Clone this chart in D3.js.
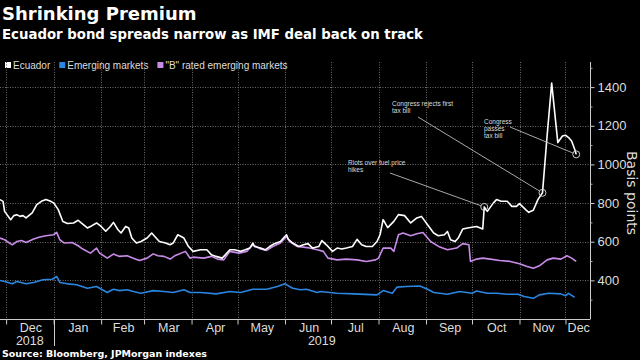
<!DOCTYPE html>
<html><head><meta charset="utf-8">
<script src="https://cdn.jsdelivr.net/npm/d3@7"></script>
<style>
html,body{margin:0;padding:0;background:#000;}
svg{display:block;}
</style></head>
<body>
<svg id="c" width="640" height="360"></svg>
<script>
const title = "Shrinking Premium";
const subtitle = "Ecuador bond spreads narrow as IMF deal back on track";
const source = "Source: Bloomberg, JPMorgan indexes";
const seriesNames = ["Ecuador", "Emerging markets", "\"B\" rated emerging markets"];
const seriesColors = ["#ffffff", "#2a86e0", "#c98be8"];
const yTicks = [400, 600, 800, 1000, 1200, 1400];
const yMinorTicks = [300, 500, 700, 900, 1100, 1300, 1500];
const monthStarts = ["2018-12-01","2019-01-01","2019-02-01","2019-03-01","2019-04-01","2019-05-01","2019-06-01","2019-07-01","2019-08-01","2019-09-01","2019-10-01","2019-11-01","2019-12-01"];
const monthLabels = ["Dec","Jan","Feb","Mar","Apr","May","Jun","Jul","Aug","Sep","Oct","Nov","Dec"];

const ecuador = [
["2018-11-27",818],["2018-11-29",809],["2018-11-30",757],["2018-12-04",714],["2018-12-06",735],["2018-12-08",740],
["2018-12-10",731],["2018-12-12",735],["2018-12-14",723],["2018-12-18",749],["2018-12-21",792],["2018-12-24",809],
["2018-12-27",818],["2018-12-30",809],["2019-01-01",801],["2019-01-04",766],["2019-01-07",705],["2019-01-10",694],
["2019-01-14",697],["2019-01-17",711],["2019-01-19",697],["2019-01-23",671],["2019-01-26",683],["2019-01-29",697],
["2019-02-01",679],["2019-02-04",654],["2019-02-07",679],["2019-02-09",700],["2019-02-12",662],["2019-02-14",645],
["2019-02-17",679],["2019-02-19",671],["2019-02-21",619],["2019-02-24",593],["2019-02-27",601],["2019-03-03",619],
["2019-03-06",645],["2019-03-08",627],["2019-03-11",601],["2019-03-15",593],["2019-03-18",584],["2019-03-20",593],
["2019-03-23",636],["2019-03-27",619],["2019-03-30",575],["2019-04-02",550],["2019-04-07",558],["2019-04-11",558],
["2019-04-14",532],["2019-04-17",524],["2019-04-21",515],["2019-04-23",532],["2019-04-26",558],["2019-04-29",558],
["2019-05-03",550],["2019-05-06",558],["2019-05-09",567],["2019-05-11",593],["2019-05-12",575],["2019-05-16",567],
["2019-05-19",558],["2019-05-22",575],["2019-05-25",590],["2019-05-29",601],["2019-05-31",619],["2019-06-02",636],
["2019-06-03",614],["2019-06-06",593],["2019-06-10",575],["2019-06-13",584],["2019-06-16",590],["2019-06-19",567],
["2019-06-23",575],["2019-06-25",606],["2019-06-28",584],["2019-07-02",550],["2019-07-05",567],["2019-07-08",562],
["2019-07-11",567],["2019-07-15",575],["2019-07-18",612],["2019-07-21",584],["2019-07-24",575],["2019-07-28",575],
["2019-07-31",601],["2019-08-02",636],["2019-08-04",714],["2019-08-07",673],["2019-08-11",705],["2019-08-14",740],
["2019-08-18",735],["2019-08-22",697],["2019-08-26",723],["2019-08-29",731],["2019-09-02",688],["2019-09-06",645],
["2019-09-09",631],["2019-09-13",636],["2019-09-15",653],["2019-09-17",610],["2019-09-20",601],["2019-09-22",619],
["2019-09-25",666],["2019-09-28",671],["2019-10-04",679],["2019-10-08",666],["2019-10-09",780],["2019-10-11",757],
["2019-10-15",801],["2019-10-17",818],["2019-10-20",809],["2019-10-24",809],["2019-10-27",783],["2019-10-30",783],
["2019-11-01",797],["2019-11-05",766],["2019-11-07",752],["2019-11-10",763],["2019-11-13",818],["2019-11-16",853],
["2019-11-19",1147],["2019-11-22",1421],["2019-11-26",1113],["2019-11-29",1147],["2019-12-01",1151],["2019-12-03",1139],
["2019-12-05",1121],["2019-12-07",1078],["2019-12-08",1052]
];

const emerging = [
["2018-11-27",399],["2018-11-30",394],["2018-12-05",382],["2018-12-08",394],["2018-12-14",382],["2018-12-19",389],
["2018-12-25",403],["2018-12-31",406],["2019-01-03",420],["2019-01-05",389],["2019-01-10",382],["2019-01-16",377],
["2019-01-23",359],["2019-01-29",368],["2019-02-05",337],["2019-02-09",354],["2019-02-13",347],["2019-02-18",351],
["2019-02-22",342],["2019-02-27",333],["2019-03-07",347],["2019-03-14",342],["2019-03-20",337],["2019-03-27",351],
["2019-03-31",337],["2019-04-07",337],["2019-04-17",330],["2019-04-26",342],["2019-05-03",337],["2019-05-11",354],
["2019-05-20",354],["2019-05-27",368],["2019-06-01",382],["2019-06-06",359],["2019-06-11",351],["2019-06-15",354],
["2019-06-22",337],["2019-06-24",342],["2019-07-05",333],["2019-07-16",330],["2019-07-31",325],["2019-08-04",347],
["2019-08-10",333],["2019-08-13",365],["2019-08-19",368],["2019-08-28",371],["2019-09-02",354],["2019-09-06",337],
["2019-09-15",328],["2019-09-23",342],["2019-10-01",333],["2019-10-04",345],["2019-10-11",333],["2019-10-17",333],
["2019-10-24",328],["2019-10-31",328],["2019-11-04",316],["2019-11-10",307],["2019-11-14",325],["2019-11-20",333],
["2019-11-28",330],["2019-12-01",320],["2019-12-03",333],["2019-12-07",312]
];

const bRated = [
["2018-11-27",619],["2018-11-30",610],["2018-12-05",584],["2018-12-08",601],["2018-12-11",606],["2018-12-14",596],
["2018-12-19",614],["2018-12-23",624],["2018-12-27",631],["2019-01-01",636],["2019-01-03",648],["2019-01-05",610],
["2019-01-08",593],["2019-01-13",596],["2019-01-17",579],["2019-01-20",562],["2019-01-25",541],["2019-01-29",567],
["2019-01-31",541],["2019-02-05",515],["2019-02-09",536],["2019-02-13",524],["2019-02-18",527],["2019-02-22",515],
["2019-02-26",503],["2019-03-03",515],["2019-03-07",537],["2019-03-10",527],["2019-03-14",524],["2019-03-18",510],
["2019-03-21",527],["2019-03-28",550],["2019-03-31",515],["2019-04-02",520],["2019-04-09",515],["2019-04-14",524],
["2019-04-18",510],["2019-04-22",506],["2019-04-26",550],["2019-05-02",541],["2019-05-07",550],["2019-05-11",584],
["2019-05-16",562],["2019-05-20",555],["2019-05-24",575],["2019-05-29",593],["2019-06-02",627],["2019-06-04",601],
["2019-06-09",575],["2019-06-13",572],["2019-06-17",567],["2019-06-22",558],["2019-06-26",550],["2019-06-29",515],
["2019-07-05",506],["2019-07-11",510],["2019-07-18",506],["2019-07-24",498],["2019-07-30",506],["2019-08-01",515],
["2019-08-04",567],["2019-08-09",567],["2019-08-11",550],["2019-08-14",636],["2019-08-17",645],["2019-08-22",631],
["2019-08-26",641],["2019-08-30",648],["2019-09-04",601],["2019-09-10",572],["2019-09-15",558],["2019-09-21",567],
["2019-09-25",590],["2019-09-29",584],["2019-09-30",498],["2019-10-04",510],["2019-10-08",515],["2019-10-13",510],
["2019-10-19",503],["2019-10-26",498],["2019-11-01",486],["2019-11-06",472],["2019-11-10",463],["2019-11-14",475],
["2019-11-19",506],["2019-11-23",515],["2019-11-28",510],["2019-12-02",527],["2019-12-05",515],["2019-12-08",498]
];

const annotations = [
  {date:"2019-10-09", lines:["Riots over fuel price","hikes"], tx:348, ty:163, lx:390, ly:173},
  {date:"2019-11-16", lines:["Congress rejects first","tax bill"], tx:392, ty:104, lx:418, ly:117},
  {date:"2019-12-08", lines:["Congress","passes","tax bill"], tx:484, ty:122, lx:510, ly:127}
];

const parse = d3.timeParse("%Y-%m-%d");
const svg = d3.select("#c");
const W = 640, H = 360;
const plot = {left:0, right:590, top:62, bottom:319};
const narrow = "'Liberation Sans Narrow', 'Arial Narrow', 'Liberation Sans', sans-serif";

svg.append("rect").attr("width", W).attr("height", H).attr("fill", "#000");

const x = d3.scaleTime().domain([parse("2018-11-27"), parse("2019-12-17")]).range([plot.left, plot.right]);
const y = d3.scaleLinear().domain([200, 1530]).range([plot.bottom, plot.top]);

// Titles
svg.append("text").attr("x", 2).attr("y", 20).text(title)
  .attr("font-family", "'DejaVu Sans', sans-serif").attr("font-weight", "bold").attr("font-size", 18).attr("fill", "#fff");
svg.append("text").attr("x", 2).attr("y", 39).text(subtitle)
  .attr("font-family", "'DejaVu Sans', sans-serif").attr("font-weight", "bold").attr("font-size", 13.3).attr("fill", "#fff");

// Legend
const legend = svg.append("g");
let lx = 5;
seriesNames.forEach((n, i) => {
  legend.append("rect").attr("x", lx).attr("y", 62).attr("width", 6).attr("height", 6).attr("fill", seriesColors[i]);
  const t = legend.append("text").attr("x", lx + 8).attr("y", 68.5).text(n)
    .attr("font-family", narrow).attr("font-size", 10).attr("fill", "#ddd");
  lx += 8 + t.node().getComputedTextLength() + 9;
});

// Gridlines
const gridG = svg.append("g").attr("stroke", "#6a6a6a").attr("stroke-width", 1).attr("stroke-dasharray", "1,1.5");
gridG.selectAll("line.h").data(yTicks).join("line")
  .attr("x1", plot.left).attr("x2", plot.right)
  .attr("y1", d => Math.round(y(d)) + 0.5).attr("y2", d => Math.round(y(d)) + 0.5);
gridG.selectAll("line.v").data(monthStarts).join("line")
  .attr("x1", d => Math.round(x(parse(d))) + 0.5).attr("x2", d => Math.round(x(parse(d))) + 0.5)
  .attr("y1", plot.top).attr("y2", plot.bottom);

// Right axis
const yAxis = d3.axisRight(y).tickValues(yTicks).tickSize(4).tickPadding(3).tickFormat(d3.format("d"));
const yg = svg.append("g").attr("transform", `translate(${plot.right + 0.5},0)`).call(yAxis);
yg.select(".domain").attr("stroke", "#ccc").attr("d", `M0,${plot.top}V${plot.bottom}`);
yg.selectAll(".tick line").attr("stroke", "#ccc");
yg.selectAll(".tick text").attr("fill", "#ddd").attr("font-family", narrow).attr("font-size", 13);
const yMinor = d3.axisRight(y).tickValues(yMinorTicks).tickSize(2).tickFormat("");
const ym = svg.append("g").attr("transform", `translate(${plot.right + 0.5},0)`).call(yMinor);
ym.select(".domain").remove();
ym.selectAll(".tick line").attr("stroke", "#aaa");

svg.append("text").attr("transform", `translate(627,193) rotate(90)`).attr("text-anchor", "middle")
  .text("Basis points").attr("font-family", "'DejaVu Sans', sans-serif").attr("font-size", 14).attr("fill", "#ddd");

// Bottom axis
const xAxis = d3.axisBottom(x).tickValues(monthStarts.map(parse)).tickSize(5).tickFormat("");
const xg = svg.append("g").attr("transform", `translate(0,${plot.bottom + 0.5})`).call(xAxis);
xg.select(".domain").attr("stroke", "#ccc").attr("d", `M${plot.left},0H${plot.right + 0.5}`);
xg.selectAll(".tick line").attr("stroke", "#ccc");

const edges = monthStarts.map(parse);
monthLabels.forEach((m, i) => {
  const a = x(edges[i]);
  const b = i + 1 < edges.length ? x(edges[i + 1]) : plot.right;
  svg.append("text").attr("x", (a + b) / 2 + 1).attr("y", 332).attr("text-anchor", "middle").text(m)
    .attr("font-family", narrow).attr("font-size", 12.5).attr("fill", "#ddd");
});
const jan = x(parse("2019-01-01"));
svg.append("line").attr("x1", Math.round(jan) + 0.5).attr("x2", Math.round(jan) + 0.5)
  .attr("y1", plot.bottom).attr("y2", 346).attr("stroke", "#ccc");
svg.append("text").attr("x", (plot.left + jan) / 2 + 3).attr("y", 345).attr("text-anchor", "middle").text("2018")
  .attr("font-family", narrow).attr("font-size", 12.5).attr("fill", "#ddd");
svg.append("text").attr("x", (jan + plot.right) / 2).attr("y", 345).attr("text-anchor", "middle").text("2019")
  .attr("font-family", narrow).attr("font-size", 12.5).attr("fill", "#ddd");

svg.append("text").attr("x", 2).attr("y", 357).text(source)
  .attr("font-family", "'DejaVu Sans', sans-serif").attr("font-weight", "bold").attr("font-size", 9.5).attr("fill", "#fff");

// Lines
const line = d3.line().x(d => x(parse(d[0]))).y(d => y(d[1]));
[[bRated, 2], [emerging, 1], [ecuador, 0]].forEach(([data, i]) => {
  svg.append("path").datum(data).attr("d", line).attr("fill", "none")
    .attr("stroke", seriesColors[i]).attr("stroke-width", 1.6).attr("stroke-linejoin", "round");
});

// Annotations
const ecMap = new Map(ecuador);
annotations.forEach(a => {
  const px = x(parse(a.date)), py = y(ecMap.get(a.date));
  const ang = Math.atan2(py - a.ly, px - a.lx);
  svg.append("line").attr("x1", a.lx).attr("y1", a.ly)
    .attr("x2", px - 3.5 * Math.cos(ang)).attr("y2", py - 3.5 * Math.sin(ang))
    .attr("stroke", "#bbb").attr("stroke-width", 0.9);
  svg.append("circle").attr("cx", px).attr("cy", py).attr("r", 3.5)
    .attr("fill", "none").attr("stroke", "#ccc").attr("stroke-width", 1);
  a.lines.forEach((t, k) => {
    svg.append("text").attr("x", a.tx).attr("y", a.ty + k * 7 + 2).text(t)
      .attr("font-family", narrow).attr("font-size", 6.5).attr("fill", "#ddd");
  });
});
</script>
</body></html>
